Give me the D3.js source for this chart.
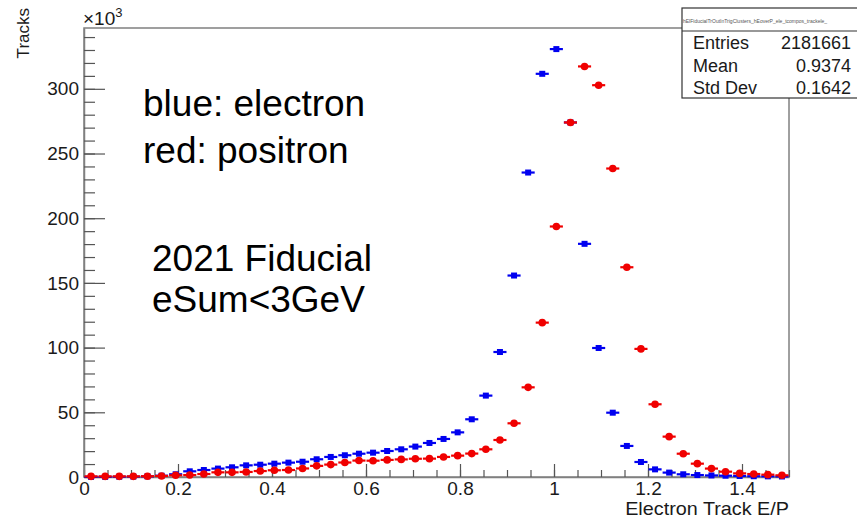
<!DOCTYPE html>
<html><head><meta charset="utf-8">
<script src="https://cdn.jsdelivr.net/npm/d3@7"></script>
<style>body{margin:0;background:#fff}svg{display:block;font-family:"Liberation Sans",Arial,sans-serif}</style>
</head><body>
<svg id="c" width="857" height="518"></svg>
<script>
// bin edges: 50 bins from 0 to 1.5
const binStart = 0, binWidth = 0.03, nBins = 50;
// electron (blue) counts, thousands
const electron = [0.1,0.1,0.2,0.3,0.5,1.0,2.1,4.4,5.4,6.5,7.5,9.0,9.5,10.3,11.1,11.8,13.7,15.5,16.8,18.0,18.8,20.1,21.4,23.5,26.3,29.4,34.5,44.6,62.9,96.6,155.7,235.3,311.6,330.7,274.0,180.2,99.7,49.7,24.0,11.6,5.9,3.4,2.1,1.5,1.2,1.0,0.8,0.6,0.5,0.4];
// positron (red) counts, thousands
const positron = [0.5,0.5,0.5,0.5,0.6,0.8,1.3,1.5,2.3,3.6,3.6,3.9,4.6,5.2,5.4,6.6,8.6,9.6,11.2,12.7,12.6,13.2,13.6,14.1,14.2,15.5,16.5,18.1,21.4,28.6,41.5,69.3,119.3,193.6,274.0,317.3,302.8,238.4,162.1,99.0,56.2,31.2,18.0,10.3,6.5,4.1,2.8,2.3,1.8,1.3];
const xTicks = [0,0.2,0.4,0.6,0.8,1,1.2,1.4];
const yTicks = [0,50,100,150,200,250,300];
const statsLabels = ["Entries","Mean","Std Dev"];
const statsValues = ["2181661","0.9374","0.1642"];
const notes = ["blue: electron","red: positron","2021 Fiducial","eSum<3GeV"];

const svg = d3.select("#c");
const L=84,R=789,T=28,B=477;
const x = d3.scaleLinear().domain([0,1.5]).range([L,R]);
const y = d3.scaleLinear().domain([0,347]).range([B,T]);
const axisCol="#808080", textCol="#1a1a1a";

// frame
svg.append("rect").attr("x",L).attr("y",T).attr("width",R-L).attr("height",B-T)
  .attr("fill","none").attr("stroke",axisCol).attr("stroke-width",1.5);

// x axis
const gx = svg.append("g").attr("transform",`translate(0,${B})`);
gx.call(d3.axisBottom(x).tickValues(xTicks).tickSize(-13).tickSizeOuter(0).tickPadding(5).tickFormat(d3.format("~g")));
const gxm = svg.append("g").attr("transform",`translate(0,${B})`);
gxm.call(d3.axisBottom(x).tickValues(d3.range(0,1.5001,0.05)).tickSize(-7).tickFormat(""));
gxm.select(".domain").remove();
// y axis
const gy = svg.append("g").attr("transform",`translate(${L},0)`);
gy.call(d3.axisLeft(y).tickValues(yTicks).tickSize(-21).tickSizeOuter(0).tickPadding(5));
const gym = svg.append("g").attr("transform",`translate(${L},0)`);
gym.call(d3.axisLeft(y).tickValues(d3.range(0,341,10)).tickSize(-11).tickFormat(""));
gym.select(".domain").remove();
svg.selectAll(".domain").attr("stroke",axisCol).attr("stroke-width",1.5);
svg.selectAll(".tick line").attr("stroke","#555").attr("stroke-width",1.2);
svg.selectAll(".tick text").attr("fill",textCol).style("font-size","19px").style("font-family","'Liberation Sans',Arial,sans-serif");

// axis titles
svg.append("text").attr("transform",`translate(${R},515) scale(1.1,1)`).attr("text-anchor","end")
  .style("font-size","18px").attr("fill",textCol).text("Electron Track E/P");
svg.append("text").attr("transform","translate(29,8) rotate(-90)").attr("text-anchor","end")
  .style("font-size","17px").attr("fill",textCol).text("Tracks");
const mult = svg.append("text").attr("x",83).attr("y",25).style("font-size","19px").attr("fill",textCol);
mult.append("tspan").text("\u00d710");
mult.append("tspan").attr("dy",-8).style("font-size","13px").text("3");

// data
const centers = d3.range(nBins).map(i=>binStart+binWidth*(i+0.5));
function drawSeries(vals,col,shape){
  const g = svg.append("g");
  g.selectAll("line").data(vals).join("line")
    .attr("x1",(d,i)=>x(centers[i]-binWidth/2)+0.5).attr("x2",(d,i)=>x(centers[i]+binWidth/2)-0.5)
    .attr("y1",d=>y(d)).attr("y2",d=>y(d)).attr("stroke",col).attr("stroke-width",2.2);
  if(shape==="sq"){
    g.selectAll("rect").data(vals).join("rect")
      .attr("x",(d,i)=>x(centers[i])-3).attr("y",d=>y(d)-3).attr("width",6).attr("height",6).attr("fill",col);
  } else {
    g.selectAll("circle").data(vals).join("circle")
      .attr("cx",(d,i)=>x(centers[i])).attr("cy",d=>y(d)).attr("r",3.8).attr("fill",col);
  }
}
drawSeries(electron,"#0000f0","sq");
drawSeries(positron,"#f00000","ci");

// annotations
const noteY=[116,163,271,312], noteX=[143,143,152,152];
svg.selectAll(".note").data(notes).join("text").attr("class","note")
  .attr("x",(d,i)=>noteX[i]).attr("y",(d,i)=>noteY[i]).style("font-size","37px").attr("fill","#000").text(d=>d);

// stats box
const bx=682, by=8, bw=180, bh=90;
svg.append("rect").attr("x",bx).attr("y",by).attr("width",bw).attr("height",bh).attr("fill","#fff").attr("stroke","#333").attr("stroke-width",1.2);
svg.append("line").attr("x1",bx).attr("x2",bx+bw).attr("y1",by+23).attr("y2",by+23).attr("stroke","#333").attr("stroke-width",1.2);
svg.append("text").attr("x",bx+1).attr("y",by+15).style("font-size","5px").attr("fill","#555")
  .text("hElFiducialTrOutInTrigClusters_hEoverP_ele_tcompos_trackele_");
statsLabels.forEach((t,i)=>{
  svg.append("text").attr("x",693).attr("y",49+i*22.5).style("font-size","18px").attr("fill",textCol).text(t);
  svg.append("text").attr("x",851).attr("y",49+i*22.5).attr("text-anchor","end").style("font-size","18px").attr("fill",textCol).text(statsValues[i]);
});
</script>
</body></html>
